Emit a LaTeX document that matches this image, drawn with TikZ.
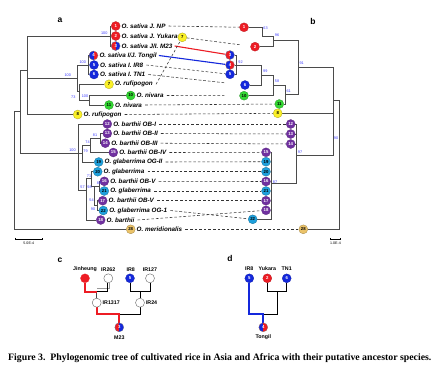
\documentclass[tikz,border=0pt]{standalone}
\usepackage{fontspec}
\setmainfont{Liberation Serif}
\setsansfont{Liberation Sans}
\pgfdeclarelayer{bg}
\pgfdeclarelayer{paper}
\pgfsetlayers{paper,bg,main}
\definecolor{cR}{RGB}{237,28,36}
\definecolor{cB}{RGB}{20,40,220}
\definecolor{cY}{RGB}{250,240,40}
\definecolor{cG}{RGB}{50,215,50}
\definecolor{cP}{RGB}{112,48,160}
\definecolor{cC}{RGB}{30,160,220}
\definecolor{cT}{RGB}{235,195,105}
\definecolor{cL}{RGB}{75,75,75}
\definecolor{cBS}{RGB}{60,60,255}
\begin{document}
\begin{tikzpicture}[x=1pt,y=-1pt,
 disc/.style={circle,minimum size=9pt,inner sep=0pt,font=\sffamily\bfseries\fontsize{4.3}{4}\selectfont,line width=0.25pt},
 leaf/.style={disc,fill=#1,draw=#1!75!black,text=white},
 leafd/.style={disc,fill=#1,draw=#1!65!black,text=black},
 halves/.style 2 args={disc,text=white,fill=#2,draw=black!50,path picture={\fill[#1] (path picture bounding box.south west) rectangle (path picture bounding box.north);}},
 hollow/.style={disc,fill=white,draw=black!60,line width=0.4pt},
 lbl/.style={anchor=west,inner sep=0pt,font=\sffamily\bfseries\itshape\fontsize{6.3}{7}\selectfont},
 br/.style={draw=cL,line width=0.85pt},
 bs/.style={inner sep=0pt,font=\sffamily\fontsize{3.8}{4}\selectfont,text=cBS},
 dsh/.style={draw=black!80,line width=0.55pt,dash pattern=on 2.6pt off 2pt},
 plbl/.style={font=\sffamily\bfseries\fontsize{8.5}{9}\selectfont,inner sep=0pt},
 clbl/.style={font=\sffamily\bfseries\fontsize{5.3}{6}\selectfont,inner sep=0pt},
 sclbl/.style={font=\sffamily\fontsize{3.6}{4}\selectfont,inner sep=0pt},
]
\useasboundingbox (0,0) rectangle (447,368);
\begin{pgfonlayer}{paper}
\fill[white] (0,0) rectangle (447,368);
\end{pgfonlayer}

% panel letters
\node[plbl] (pa) at (60,20.5) {a};
\node[plbl] (pb) at (313,21) {b};
\node[plbl] (pc) at (60,260) {c};
\node[plbl] (pd) at (230,258.3) {d};

% ---------- tree a leaves ----------
\node[leaf=cR] (a1) at (115.7,26) {1};
\node[leaf=cR] (a2) at (115.7,36) {2};
\node[halves={cR}{cB}] (a3) at (115.7,46) {3};
\node[halves={cB}{cR}] (a4) at (93.5,55.5) {4};
\node[leaf=cB] (a5) at (94,65) {5};
\node[leaf=cB] (a6) at (94,74.5) {6};
\node[leafd=cY] (a7) at (109,84.3) {7};
\node[leafd=cG] (a10) at (130.7,95.5) {10};
\node[leafd=cG] (a11) at (109,105) {11};
\node[leafd=cY] (a8) at (77.7,114.5) {8};
\node[leaf=cP] (a12) at (107.3,124) {12};
\node[leaf=cP] (a13) at (107.3,133.5) {13};
\node[leaf=cP] (a14) at (105.3,143.2) {14};
\node[leaf=cP] (a15) at (113.3,152.5) {15};
\node[leafd=cC] (a19) at (98.7,162) {19};
\node[leafd=cC] (a20) at (97.7,171.7) {20};
\node[leaf=cP] (a16) at (104.3,181.3) {16};
\node[leafd=cC] (a21) at (104.3,191) {21};
\node[leaf=cP] (a17) at (102.7,200.7) {17};
\node[leafd=cC] (a22) at (103.3,210.5) {22};
\node[leaf=cP] (a18) at (100.7,220) {18};
\node[leafd=cT] (a28) at (130.7,229.3) {28};

\node[lbl] (la1) at ([xshift=1.2pt]a1.east) {O. sativa J. NP};
\node[lbl] (la2) at ([xshift=1.2pt]a2.east) {O. sativa J. Yukara};
\node[lbl] (la3) at ([xshift=1.2pt]a3.east) {O. sativa J/I. M23};
\node[lbl] (la4) at ([xshift=1.2pt]a4.east) {O. sativa I/J. Tongil};
\node[lbl] (la5) at ([xshift=1.2pt]a5.east) {O. sativa I. IR8};
\node[lbl] (la6) at ([xshift=1.2pt]a6.east) {O. sativa I. TN1};
\node[lbl] (la7) at ([xshift=1.2pt]a7.east) {O. rufipogon};
\node[lbl] (la10) at ([xshift=1.2pt]a10.east) {O. nivara};
\node[lbl] (la11) at ([xshift=1.2pt]a11.east) {O. nivara};
\node[lbl] (la8) at ([xshift=1.2pt]a8.east) {O. rufipogon};
\node[lbl] (la12) at ([xshift=1.2pt]a12.east) {O. barthii OB-I};
\node[lbl] (la13) at ([xshift=1.2pt]a13.east) {O. barthii OB-II};
\node[lbl] (la14) at ([xshift=1.2pt]a14.east) {O. barthii OB-III};
\node[lbl] (la15) at ([xshift=1.2pt]a15.east) {O. barthii OB-IV};
\node[lbl] (la19) at ([xshift=1.2pt]a19.east) {O. glaberrima OG-II};
\node[lbl] (la20) at ([xshift=1.2pt]a20.east) {O. glaberrima};
\node[lbl] (la16) at ([xshift=1.2pt]a16.east) {O. barthii OB-V};
\node[lbl] (la21) at ([xshift=1.2pt]a21.east) {O. glaberrima};
\node[lbl] (la17) at ([xshift=1.2pt]a17.east) {O. barthii OB-V};
\node[lbl] (la22) at ([xshift=1.2pt]a22.east) {O. glaberrima OG-1};
\node[lbl] (la18) at ([xshift=1.2pt]a18.east) {O. barthii};
\node[lbl] (la28) at ([xshift=1.2pt]a28.east) {O. meridionalis};

% ---------- tree a internal nodes ----------
\coordinate (ra) at (14,111);
\coordinate (R2) at (20,111);
\coordinate (As) at (27,70);
\coordinate (A123) at (110,36);
\coordinate (N100) at (77.3,78);
\coordinate (A456) at (88.3,65);
\coordinate (N73) at (79,91);
\coordinate (N1011) at (89.3,100);
\coordinate (Af) at (78.3,153);
\coordinate (N79) at (82,153);
\coordinate (N74) at (90.7,145);
\coordinate (N81) at (100,138.3);
\coordinate (N57) at (86,190);
\coordinate (N71) at (91.7,178);
\coordinate (N88) at (94.5,186);
\coordinate (N98) at (99,186);
\coordinate (N94) at (97.5,205.6);

\begin{pgfonlayer}{bg}
\draw[br] (ra) |- (R2);
\draw[br] (ra) |- (a28);
\draw[br] (R2) |- (As);
\draw[br] (R2) |- (Af);
\draw[br] (As) |- (A123);
\draw[br] (As) |- (N100);
\draw[br] (As) |- (a8);
\draw[br] (A123) |- (a1);
\draw[br] (A123) |- (a2);
\draw[br] (A123) |- (a3);
\draw[br] (N100) |- (A456);
\draw[br] (N100) |- (N73);
\draw[br] (A456) |- (a4);
\draw[br] (A456) |- (a5);
\draw[br] (A456) |- (a6);
\draw[br] (N73) |- (a7);
\draw[br] (N73) |- (N1011);
\draw[br] (N1011) |- (a10);
\draw[br] (N1011) |- (a11);
\draw[br] (Af) |- (a12);
\draw[br] (Af) |- (N79);
\draw[br] (Af) |- (N57);
\draw[br] (N79) |- (N74);
\draw[br] (N79) |- (a19);
\draw[br] (N74) |- (N81);
\draw[br] (N74) |- (a15);
\draw[br] (N81) |- (a13);
\draw[br] (N81) |- (a14);
\draw[br] (N57) |- (N71);
\draw[br] (N57) |- (a18);
\draw[br] (N71) |- (a20);
\draw[br] (N71) |- (N88);
\draw[br] (N88) |- (N98);
\draw[br] (N88) |- (N94);
\draw[br] (N98) |- (a16);
\draw[br] (N98) |- (a21);
\draw[br] (N94) |- (a17);
\draw[br] (N94) |- (a22);
\end{pgfonlayer}

% bootstrap a
\node[bs] (ba1) at (104.3,33.3) {100};
\node[bs] (ba2) at (82.7,62) {100};
\node[bs] (ba3) at (67.7,75.3) {100};
\node[bs] (ba4) at (73.3,96.7) {73};
\node[bs] (ba5) at (85,96.5) {100};
\node[bs] (ba6) at (72.5,150.5) {100};
\node[bs] (ba7) at (85.5,151) {79};
\node[bs] (ba8) at (87.5,141.7) {74};
\node[bs] (ba9) at (95,135.3) {81};
\node[bs] (ba10) at (89,176) {71};
\node[bs] (ba11) at (82.5,187.5) {57};
\node[bs] (ba12) at (89.5,187) {98};
\node[bs] (ba13) at (99,183.5) {80};
\node[bs] (ba14) at (91.5,200.3) {54};
\node[bs] (ba15) at (93,209.3) {90};

% scale bar a
\draw[line width=0.5pt] (15,237.8) -- (15,239) -- (42.7,239) -- (42.7,237.8);
\node[sclbl] (sa) at (28.8,243.5) {5.0E-4};

% ---------- tree b leaves ----------
\node[leaf=cR] (b1) at (244,27.3) {1};
\node[leafd=cY] (b7) at (182.3,37.3) {7};
\node[leaf=cR] (b2) at (255,46.7) {2};
\node[halves={cR}{cB}] (b3) at (230,55) {3};
\node[halves={cB}{cR}] (b4) at (230,65) {4};
\node[leaf=cB] (b5) at (230,74.3) {5};
\node[leaf=cB] (b6) at (245,85) {6};
\node[leafd=cG] (b10) at (244,95.7) {10};
\node[leafd=cG] (b11) at (279.3,104) {11};
\node[leafd=cY] (b8) at (277.7,113.3) {8};
\node[leaf=cP] (b12) at (290.7,124) {12};
\node[leaf=cP] (b13) at (290.7,134) {13};
\node[leaf=cP] (b14) at (290.7,144) {14};
\node[leaf=cP] (b15) at (266,152.3) {15};
\node[leafd=cC] (b19) at (266,161.7) {19};
\node[leafd=cC] (b20) at (266,171.7) {20};
\node[leaf=cP] (b16) at (266,181.5) {16};
\node[leafd=cC] (b21) at (266,191) {21};
\node[leaf=cP] (b17) at (266,200.7) {17};
\node[leaf=cP] (b18) at (266,210.3) {18};
\node[leafd=cC] (b22) at (252.7,219.3) {22};
\node[leafd=cT] (b28) at (303.3,229.3) {28};

\coordinate (rb) at (339.3,100);
\coordinate (M90) at (333,100);
\coordinate (M91) at (298.3,67.7);
\coordinate (M96) at (273.3,40);
\coordinate (M63) at (262.3,36.7);
\coordinate (M61) at (285,94.5);
\coordinate (M58) at (273.3,85);
\coordinate (M99) at (261.7,75);
\coordinate (M92) at (236.7,65);
\coordinate (M97) at (296.7,155);
\coordinate (M87) at (271.7,183.3);

\begin{pgfonlayer}{bg}
\draw[br] (rb) |- (M90);
\draw[br] (rb) |- (b28);
\draw[br] (M90) |- (M91);
\draw[br] (M90) |- (b8);
\draw[br] (M90) |- (M97);
\draw[br] (M91) |- (M96);
\draw[br] (M91) |- (M61);
\draw[br] (M96) |- (M63);
\draw[br] (M96) |- (b2);
\draw[br] (M63) |- (b1);
\draw[br] (M61) |- (M58);
\draw[br] (M61) |- (b11);
\draw[br] (M58) |- (M99);
\draw[br] (M58) |- (b10);
\draw[br] (M99) |- (M92);
\draw[br] (M99) |- (b6);
\draw[br] (M92) |- (b3);
\draw[br] (M92) |- (b4);
\draw[br] (M92) |- (b5);
\draw[br] (M97) |- (b12);
\draw[br] (M97) |- (b13);
\draw[br] (M97) |- (b14);
\draw[br] (M97) |- (M87);
\draw[br] (M87) |- (b15);
\draw[br] (M87) |- (b19);
\draw[br] (M87) |- (b20);
\draw[br] (M87) |- (b16);
\draw[br] (M87) |- (b21);
\draw[br] (M87) |- (b17);
\draw[br] (M87) |- (b18);
\draw[br] (M87) |- (b22);

% connectors between the two trees
\draw[dsh] ([xshift=3pt]la1.east) -- (b1);
\draw[dsh,shorten >=10pt] (b7) -- (b2);
\draw[draw=cR,line width=1.1pt] ([xshift=2pt]la3.east) -- (b3);
\draw[draw=cB,line width=1.1pt] ([xshift=2pt]la4.east) -- (b4);
\draw[dsh] ([xshift=3pt]la5.east) -- (b5);
\draw[dsh,shorten >=15pt] ([xshift=3pt]la6.east) -- (b6);
\draw[dsh] ([xshift=3pt]la7.east) -- (b7);
\draw[dsh,shorten >=15pt] ([xshift=3pt]la10.east) -- (b10);
\draw[dsh] ([xshift=3pt]la11.east) -- (b11);
\draw[dsh] ([xshift=3pt]la8.east) -- (b8);
\draw[dsh] ([xshift=3pt]la12.east) -- (b12);
\draw[dsh] ([xshift=3pt]la13.east) -- (b13);
\draw[dsh] ([xshift=3pt]la14.east) -- (b14);
\draw[dsh] ([xshift=3pt]la15.east) -- (b15);
\draw[dsh] ([xshift=3pt]la19.east) -- (b19);
\draw[dsh] ([xshift=3pt]la20.east) -- (b20);
\draw[dsh] ([xshift=3pt]la16.east) -- (b16);
\draw[dsh] ([xshift=3pt]la21.east) -- (b21);
\draw[dsh] ([xshift=3pt]la17.east) -- (b17);
\draw[dsh] ([xshift=3pt]la22.east) -- (b22);
\draw[dsh] ([xshift=3pt]la18.east) -- (b18);
\draw[dsh] ([xshift=3pt]la28.east) -- (b28);
\draw[dsh] (la2.east) -- (b7);
\end{pgfonlayer}

% bootstrap b
\node[bs] (bb1) at (265.5,28.5) {63};
\node[bs] (bb2) at (277,35.3) {96};
\node[bs] (bb3) at (301.7,63.3) {91};
\node[bs] (bb4) at (240.5,62.5) {92};
\node[bs] (bb5) at (265.3,71.3) {99};
\node[bs] (bb6) at (277,81) {58};
\node[bs] (bb7) at (288.7,91) {61};
\node[bs] (bb8) at (336,137.7) {90};
\node[bs] (bb9) at (300,151.7) {97};
\node[bs] (bb10) at (275,182.3) {87};

% scale bar b
\draw[line width=0.5pt] (330.7,237.8) -- (330.7,239) -- (340,239) -- (340,237.8);
\node[sclbl] (sb) at (335.5,243.5) {1.0E-4};

% ---------- panel c ----------
\node[clbl] (tJ) at (85,269.3) {Jinheung};
\node[clbl] (t262) at (108.3,269.3) {IR262};
\node[clbl] (tc8) at (130.7,269.3) {IR8};
\node[clbl] (t127) at (150,269.3) {IR127};
\node[disc,fill=cR,draw=cR] (cJ) at (85,278.3) {};
\node[hollow] (c262) at (108.3,278.3) {};
\node[leaf=cB] (c8) at (130,278.3) {5};
\node[hollow] (c127) at (150,278.3) {};
\node[hollow] (c1317) at (96.7,302.7) {};
\node[clbl,anchor=west] (t1317) at (102.5,302.7) {IR1317};
\node[hollow] (c24) at (140,302.7) {};
\node[clbl,anchor=west] (t24) at (145.8,302.7) {IR24};
\node[halves={cR}{cB}] (cM) at (119.3,327.3) {3};
\node[clbl] (tM) at (119.3,337.5) {M23};
\coordinate (j1) at (96.7,291.2);
\coordinate (j2) at (140,291.7);
\coordinate (j3) at (119.3,314);
\begin{pgfonlayer}{bg}
\draw[black!40,line width=0.9pt] ([xshift=1.6pt]c262.south) |- ([yshift=2.6pt]j1);
\draw[black,line width=0.8pt] ([xshift=-1.2pt]c262.south) |- (j1);
\draw[black!70,line width=0.8pt] (j1) -- (c1317);
\draw[cR,line width=2pt] (cJ) |- ([yshift=-0.6pt]j1);
\draw[black,line width=0.8pt] (c8) |- (j2) -| (c127);
\draw[black,line width=0.8pt] (j2) -- (c24);
\draw[black,line width=0.8pt] (c24) |- (j3);
\draw[cR,line width=2pt] (c1317) |- (j3) -- (cM);
\end{pgfonlayer}

% ---------- panel d ----------
\node[clbl] (td8) at (249.3,268.3) {IR8};
\node[clbl] (tdY) at (267.3,268.3) {Yukara};
\node[clbl] (tdT) at (286.7,268.3) {TN1};
\node[leaf=cB] (d8) at (249.3,278.3) {5};
\node[leaf=cR] (dY) at (267.3,278.3) {2};
\node[leaf=cB] (dT) at (286.7,278.3) {6};
\node[halves={cB}{cR}] (dTo) at (263.3,327.3) {4};
\node[clbl] (tTo) at (263.3,337.5) {Tongil};
\coordinate (k1) at (277.3,291.7);
\coordinate (k2) at (263.3,314);
\begin{pgfonlayer}{bg}
\draw[black,line width=0.8pt] (dY) |- (k1) -| (dT);
\draw[black,line width=0.8pt] (k1) |- (k2);
\draw[cB,line width=2pt] (d8) |- (k2) -- (dTo);
\end{pgfonlayer}

% caption
\node[anchor=west,inner sep=0pt,font=\rmfamily\bfseries\fontsize{9.8}{11}\selectfont] (cap) at (8,358.5) {Figure 3.\ \ Phylogenomic tree of cultivated rice in Asia and Africa with their putative ancestor species.};
\end{tikzpicture}
\end{document}
